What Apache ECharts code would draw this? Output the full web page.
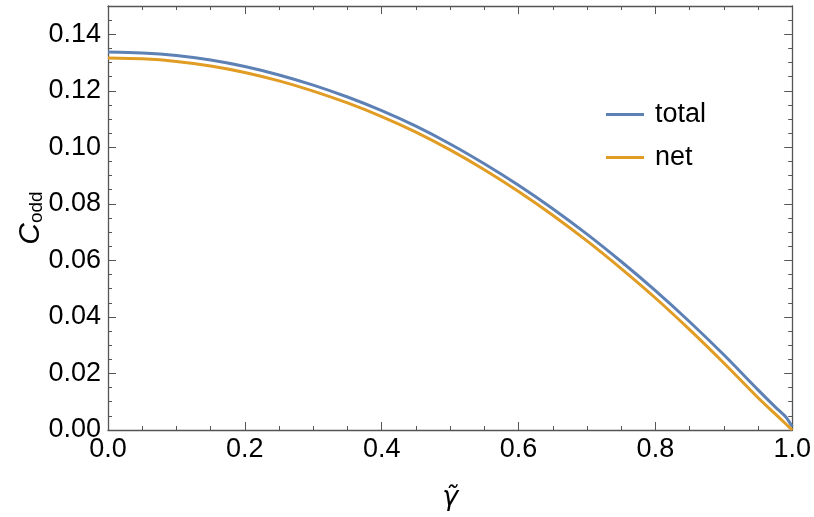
<!DOCTYPE html>
<html>
<head>
<meta charset="utf-8">
<script src="https://cdn.jsdelivr.net/npm/echarts@6/dist/echarts.min.js"></script>
<style>
  html, body { margin: 0; padding: 0; background: #fff; }
  #chart { width: 814px; height: 517px; }
</style>
</head>
<body>
<div id="chart"></div>
<script>
// gamma tilde values and the two curves
var gammaVals = [0.00, 0.05, 0.10, 0.15, 0.20, 0.25, 0.30, 0.35, 0.40, 0.45, 0.50,
                 0.55, 0.60, 0.65, 0.70, 0.75, 0.80, 0.85, 0.90, 0.95, 0.975, 0.99, 1.00];
var totalVals = [0.1337, 0.1334, 0.1325, 0.1309, 0.1286, 0.1256, 0.1220, 0.1178, 0.1130, 0.1075, 0.1012,
                 0.0942, 0.0866, 0.0783, 0.0693, 0.0596, 0.0493, 0.0383, 0.0266, 0.0142, 0.0082, 0.0048, 0.0012];
var netVals   = [0.1316, 0.1313, 0.1304, 0.1288, 0.1265, 0.1235, 0.1199, 0.1157, 0.1109, 0.1054, 0.0991,
                 0.0921, 0.0844, 0.0760, 0.0669, 0.0571, 0.0467, 0.0355, 0.0237, 0.0114, 0.0057, 0.0023, 0.0000];
var seriesNames = ['total', 'net'];
var yMajorTicks = [0, 0.02, 0.04, 0.06, 0.08, 0.10, 0.12, 0.14];
var yMinorTicks = [0.005, 0.01, 0.015, 0.025, 0.03, 0.035, 0.045, 0.05, 0.055, 0.065, 0.07, 0.075,
                   0.085, 0.09, 0.095, 0.105, 0.11, 0.115, 0.125, 0.13, 0.135, 0.145];

var frameColor = '#555';
var font = 'Liberation Sans';

var chart = echarts.init(document.getElementById('chart'));

function pairs(ys) {
  return gammaVals.map(function (g, i) { return [g, ys[i]]; });
}

function yAxisDef(pos, ticks, len, withLabel, withLine) {
  return {
    type: 'value', position: pos, min: 0, max: 0.15, interval: 0.02,
    axisLine: { show: withLine, onZero: false, lineStyle: { color: frameColor, width: 1.3 } },
    axisTick: { show: true, inside: true, length: len, customValues: ticks,
                lineStyle: { color: frameColor, width: 1 } },
    axisLabel: withLabel ? {
      show: true, customValues: yMajorTicks, color: '#000', fontSize: 27, fontFamily: font, margin: 7,
      formatter: function (v) { return v.toFixed(2); }
    } : { show: false },
    splitLine: { show: false }
  };
}

function xAxisDef(pos, withLabel) {
  return {
    type: 'value', position: pos, min: 0, max: 1, interval: 0.2,
    axisLine: { show: true, onZero: false, lineStyle: { color: frameColor, width: 1.3 } },
    axisTick: { show: true, inside: true, length: 8, lineStyle: { color: frameColor, width: 1 } },
    minorTick: { show: true, splitNumber: 4, length: 4, lineStyle: { color: frameColor, width: 1 } },
    axisLabel: withLabel ? {
      show: true, color: '#000', fontSize: 27, fontFamily: font, margin: 6,
      formatter: function (v) { return v.toFixed(1); }
    } : { show: false },
    splitLine: { show: false }
  };
}

var xMain = xAxisDef('bottom', true);
xMain.name = 'γ̃';
xMain.nameLocation = 'middle';
xMain.nameGap = 54;
xMain.nameMoveOverlap = false;
xMain.nameTextStyle = { color: '#000', fontSize: 27, fontStyle: 'italic', fontFamily: 'DejaVu Sans' };

var yMain = yAxisDef('left', yMajorTicks, 8, true, true);
yMain.name = '{c|C}{s|odd}';
yMain.nameLocation = 'middle';
yMain.nameRotate = 90;
yMain.nameGap = 62;
yMain.nameMoveOverlap = false;
yMain.nameTextStyle = {
  rich: {
    c: { fontSize: 30, fontStyle: 'italic', fontFamily: font, color: '#000' },
    s: { fontSize: 19, fontFamily: font, color: '#000', verticalAlign: 'bottom', padding: [10, 0, 0, 0] }
  }
};

var option = {
  backgroundColor: '#fff',
  animation: false,
  grid: { left: 108, right: 21, top: 6, bottom: 87 },
  legend: {
    orient: 'vertical', left: 601, top: 96, itemGap: 16,
    icon: 'rect', itemWidth: 38, itemHeight: 3,
    textStyle: { fontSize: 27, fontFamily: font, color: '#000', padding: [0, 0, 0, 6] },
    data: seriesNames
  },
  xAxis: [xMain, xAxisDef('top', false)],
  yAxis: [
    yMain,
    yAxisDef('left', yMinorTicks, 4, false, false),
    yAxisDef('right', yMajorTicks, 8, false, true),
    yAxisDef('right', yMinorTicks, 4, false, false)
  ],
  series: [
    { name: seriesNames[0], type: 'line', data: pairs(totalVals), smooth: 0.3,
      symbol: 'none', color: '#5E81B5', lineStyle: { width: 3, color: '#5E81B5' } },
    { name: seriesNames[1], type: 'line', data: pairs(netVals), smooth: 0.3,
      symbol: 'none', color: '#E19C24', lineStyle: { width: 3, color: '#E19C24' } }
  ]
};
chart.setOption(option);
</script>
</body>
</html>
